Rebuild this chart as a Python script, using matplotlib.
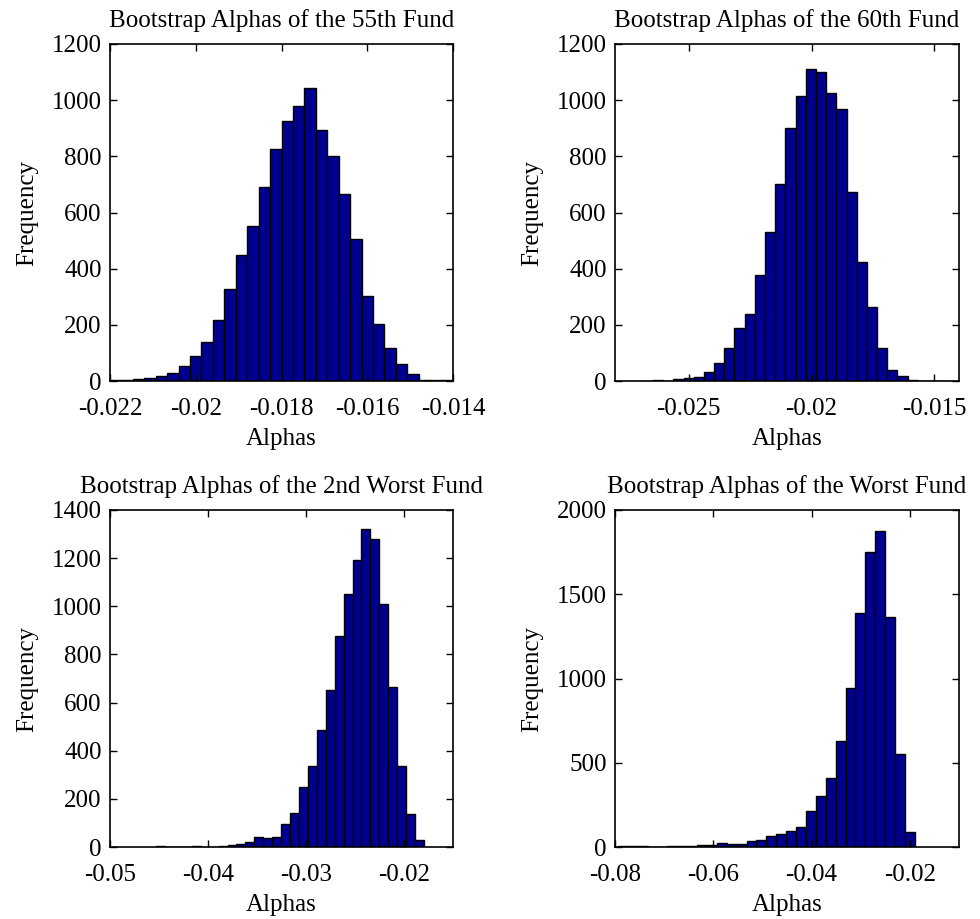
import numpy as np
import matplotlib
matplotlib.use("Agg")
import matplotlib.pyplot as plt

plt.rcParams['font.family'] = ['Liberation Serif', 'DejaVu Serif']

titles = [
    "Bootstrap Alphas of the 55th Fund",
    "Bootstrap Alphas of the 60th Fund",
    "Bootstrap Alphas of the 2nd Worst Fund",
    "Bootstrap Alphas of the Worst Fund",
]

counts_55 = [2, 3, 7, 11, 18, 30, 52, 89, 140, 217, 327, 449, 551, 692, 826,
             925, 980, 1043, 895, 800, 667, 506, 303, 203, 119, 61, 25, 5, 2, 5]
counts_60 = [1, 2, 0, 8, 11, 14, 32, 65, 119, 189, 240, 378, 531, 703, 900,
             1014, 1112, 1102, 1027, 970, 673, 422, 265, 118, 38, 17, 5, 0, 1, 1]
counts_2w = [3, 0, 0, 1, 3, 1, 2, 6, 8, 12, 19, 40, 39, 43, 97,
             141, 250, 336, 487, 651, 876, 1051, 1192, 1321, 1278, 1010, 663, 337, 136, 28]
counts_w = [4, 6, 6, 2, 1, 4, 4, 6, 10, 14, 26, 16, 20, 34, 41,
            63, 75, 97, 119, 211, 300, 411, 628, 941, 1389, 1749, 1875, 1365, 551, 91]

bin_range_55 = (-0.022, -0.014)
bin_range_60 = (-0.02687, -0.01443)
bin_range_2w = (-0.0453, -0.01796)
bin_range_w = (-0.0794, -0.0190)

xlims = [(-0.022, -0.014), (-0.028, -0.014), (-0.05, -0.015), (-0.08, -0.01)]
xticks = [[-0.022, -0.02, -0.018, -0.016, -0.014],
          [-0.025, -0.02, -0.015],
          [-0.05, -0.04, -0.03, -0.02],
          [-0.08, -0.06, -0.04, -0.02]]
xticklabels = [["-0.022", "-0.02", "-0.018", "-0.016", "-0.014"],
               ["-0.025", "-0.02", "-0.015"],
               ["-0.05", "-0.04", "-0.03", "-0.02"],
               ["-0.08", "-0.06", "-0.04", "-0.02"]]
ylims = [(0, 1200), (0, 1200), (0, 1400), (0, 2000)]
yticks = [list(range(0, 1201, 200)), list(range(0, 1201, 200)),
          list(range(0, 1401, 200)), list(range(0, 2001, 500))]

all_counts = [counts_55, counts_60, counts_2w, counts_w]
all_ranges = [bin_range_55, bin_range_60, bin_range_2w, bin_range_w]

W, H = 980, 919
fig = plt.figure(figsize=(W / 100, H / 100), dpi=100)

# axes rectangles in pixels: left, top, right, bottom
rects = [(110, 44, 453, 381), (615, 44, 959, 381),
         (110, 510, 453, 847), (615, 510, 959, 847)]

fs = 18
for i in range(4):
    l, t, r, b = rects[i]
    ax = fig.add_axes([l / W, 1 - b / H, (r - l) / W, (b - t) / H])
    counts = np.array(all_counts[i], dtype=float)
    edges = np.linspace(all_ranges[i][0], all_ranges[i][1], len(counts) + 1)
    ax.bar(edges[:-1], counts, width=np.diff(edges), align='edge',
           color='#00008F', edgecolor='black', linewidth=1.0)
    ax.set_xlim(*xlims[i])
    ax.set_ylim(*ylims[i])
    ax.set_xticks(xticks[i])
    ax.set_xticklabels(xticklabels[i])
    ax.set_yticks(yticks[i])
    ax.tick_params(direction='in', top=True, right=True, labelsize=fs,
                   length=5, width=1)
    ax.tick_params(axis='x', pad=12)
    ax.tick_params(axis='y', pad=6)
    for s in ax.spines.values():
        s.set_linewidth(1.2)
    ax.set_title(titles[i], fontsize=fs, pad=12)
    ax.set_xlabel("Alphas", fontsize=fs, labelpad=6)
    ax.set_ylabel("Frequency", fontsize=fs, labelpad=10)

fig.savefig("out.png", dpi=100)
